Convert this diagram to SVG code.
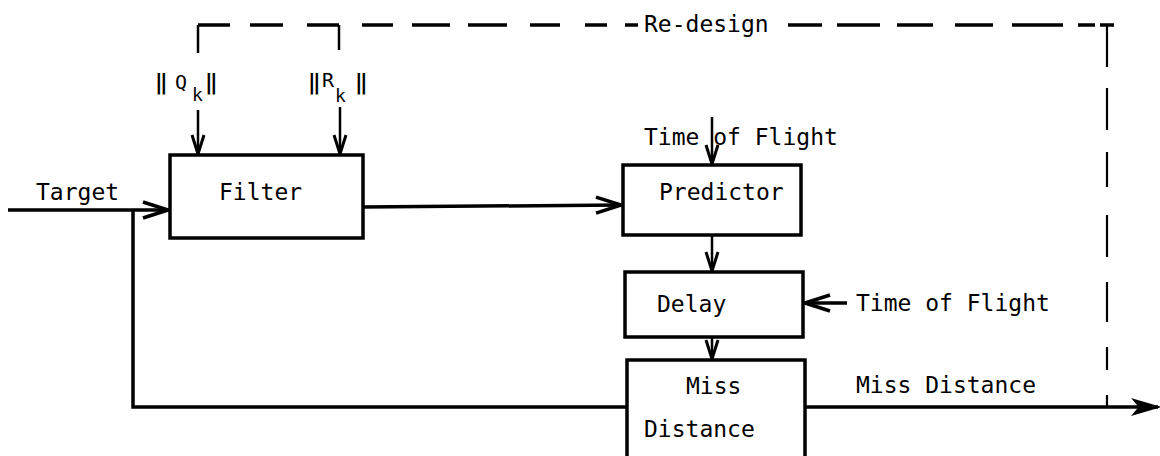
<svg xmlns="http://www.w3.org/2000/svg" width="1160" height="456" viewBox="0 0 1160 456">
<style>
.box{fill:none;stroke:#000;stroke-width:3.5}
.ln{fill:none;stroke:#000;stroke-width:3.5}
.thin{fill:none;stroke:#000;stroke-width:2.5}
.dash{fill:none;stroke:#000;stroke-width:3.5}
.vd{fill:none;stroke:#000;stroke-width:2.2}
text{font-family:"DejaVu Sans Mono","Liberation Mono",monospace;font-size:23px;fill:#000}
text.sm{font-size:18px}
text.cap{font-size:20px}
text.bar{font-size:21px;font-weight:bold}
</style>
<defs>
<marker id="ah" markerUnits="userSpaceOnUse" markerWidth="30" markerHeight="22" viewBox="-28 -11 30 22" refX="0" refY="0" orient="auto">
<path d="M-25,-8 L0,0 L-25,8" fill="none" stroke="#000" stroke-width="3.5"/>
</marker>
<marker id="as" markerUnits="userSpaceOnUse" markerWidth="24" markerHeight="18" viewBox="-22 -9 24 18" refX="0" refY="0" orient="auto">
<path d="M-19,-6 L0,0 L-19,6" fill="none" stroke="#000" stroke-width="3"/>
</marker>
<marker id="af" markerUnits="userSpaceOnUse" markerWidth="30" markerHeight="22" viewBox="-28 -11 30 22" refX="0" refY="0" orient="auto">
<path d="M-24,-7 L0,0 L-24,7 L-18,0 Z" fill="#000" stroke="#000" stroke-width="2"/>
</marker>
</defs>
<rect width="1160" height="456" fill="#fff"/>

<g id="connectors">
<path class="ln" d="M8,210 H168" marker-end="url(#ah)"/>
<path class="ln" d="M133,210 V407 H627"/>
<path class="ln" d="M363,207 L621,205" marker-end="url(#ah)"/>
<path class="thin" d="M198,110 V154" marker-end="url(#as)"/>
<path class="thin" d="M340,107 V154" marker-end="url(#as)"/>
<path class="thin" d="M712,117 V164" marker-end="url(#as)"/>
<path class="thin" d="M712,235 V271" marker-end="url(#as)"/>
<path class="ln" d="M847,303 H805" marker-end="url(#ah)"/>
<path class="thin" d="M712,337 V359" marker-end="url(#as)"/>
<path class="ln" d="M805,407 H1158" marker-end="url(#af)"/>
<g id="redesign-loop">
<path class="thin" d="M198,53 V25"/>
<path class="thin" d="M339,50 V25"/>
<path class="dash" d="M198,25 H230 M250,25 H283 M307,25 H339 M362,25 H393 M412,25 H450 M468,25 H507 M530,25 H560 M585,25 H607 M625,25 H638 M788,25 H822 M837,25 H880 M897,25 H933 M955,25 H993 M1012,25 H1063 M1078,25 H1095 M1100,25 H1114"/>
<path class="vd" d="M1107,25 V67 M1107,88 V130 M1107,152 V187 M1107,215 V257 M1107,282 V322 M1107,347 V370 M1107,395 V407"/>
</g>
</g>

<g id="labels">
<text x="36" y="200">Target</text>
<text x="644" y="32">Re-design</text>
<text x="644" y="145">Time of Flight</text>
<text x="856" y="311">Time of Flight</text>
<text x="856" y="393">Miss Distance</text>
<g id="Q-label">
<text class="bar" x="155" y="89">‖</text>
<text class="cap" x="175" y="89">Q</text>
<text class="sm" x="192" y="101">k</text>
<text class="bar" x="205" y="89">‖</text>
</g>
<g id="R-label">
<text class="bar" x="308" y="89">‖</text>
<text class="cap" x="322" y="87">R</text>
<text class="sm" x="335" y="102">k</text>
<text class="bar" x="355" y="89">‖</text>
</g>
</g>

<g id="filter">
<rect class="box" x="170" y="155" width="193" height="83"/>
<text x="219" y="200">Filter</text>
</g>
<g id="predictor">
<rect class="box" x="623" y="165" width="178" height="70"/>
<text x="659" y="200">Predictor</text>
</g>
<g id="delay">
<rect class="box" x="625" y="272" width="178" height="65"/>
<text x="657" y="312">Delay</text>
</g>
<g id="miss-distance">
<rect class="box" x="627" y="360" width="178" height="110"/>
<text x="686" y="394">Miss</text>
<text x="644" y="437">Distance</text>
</g>
</svg>
